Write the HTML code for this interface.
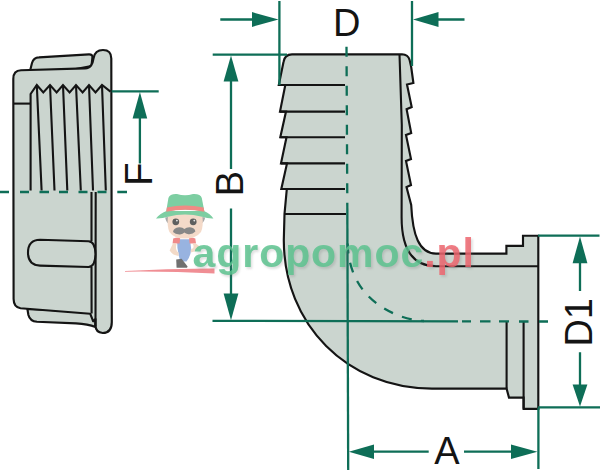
<!DOCTYPE html>
<html>
<head>
<meta charset="utf-8">
<title>Elbow hose tail</title>
<style>
html,body{margin:0;padding:0;background:#ffffff;}
body{width:600px;height:473px;overflow:hidden;font-family:"Liberation Sans",sans-serif;}
svg{display:block;}
</style>
</head>
<body>
<svg width="600" height="473" viewBox="0 0 600 473">
<rect width="600" height="473" fill="#ffffff"/>

<!-- ================= NUT (left) ================= -->
<g fill="#cbd5cf" stroke="#141414" stroke-width="2.15" stroke-linejoin="round" stroke-linecap="round">
  <!-- back steps -->
  <path d="M30,71 L32,63 Q33.5,57.6 39,57.4 L89,54.4 Q92.8,54.3 92.4,57.5 L91.5,66 L60,72 Z"/>
  <path d="M27.4,309 L28.4,315 Q30,321.3 37,321.8 L76,323.4 Q88,324.2 95.5,327 L95.5,312 Z"/>
  <!-- main body -->
  <path d="M13.3,79 Q13.3,70.4 21,70.3 L85,68.4 C91,68.3 92.6,64 93.6,58 C94.6,52 98,50 103,50 Q111.3,50 111.3,58.5 L111.8,322 Q111.8,333 102.8,333 Q95.5,332.5 95.5,325 L95.5,319 L93.2,321.3 L90.2,313.7 L20.5,308.3 Q13.6,307 13.6,299 Z"/>
</g>
<g fill="none" stroke="#141414" stroke-width="2.1" stroke-linejoin="miter" stroke-linecap="butt">
  <!-- thread zigzag -->
  <path d="M30.6,190.5 L30.6,94 L36.8,85 L43.3,92.4 L50,85 L56.6,92.4 L63,85 L69.6,92.4 L76,85 L82.6,92.4 L89,85 L95.5,92.4 L102,85 L110.5,91.6"/>
  <path d="M36.8,85 L41.6,190.5 M50,85 L54.5,190.5 M63,85 L67.3,190.5 M76,85 L80.8,190.5 M89,85 L93,190.5 M102,85 L105.8,190.5"/>
  <path d="M13.5,103.6 L30.6,103.6"/>
  <!-- lower verticals -->
  <path d="M91.5,192 L91.5,241 M91.5,267 L91.6,313.6 M95.7,192 L95.5,326"/>
  <!-- slot -->
  <path fill="#cbd5cf" d="M40,239.7 L88.5,241.2 C93.6,241.6 95.4,247.5 95.4,254 C95.4,260.8 93.6,266.6 88.5,267 L40,265.6 Q28,265 28,252.6 Q28,240 40,239.7 Z"/>
</g>

<!-- ================= ELBOW (right) ================= -->
<path fill="#cbd5cf" stroke="#141414" stroke-width="2.15" stroke-linejoin="miter" d="M292,54.3 L402,54.3 Q408,54.6 409.6,60 L411.2,67 L413.4,83 L407,84.5 L411.7,107 L406.6,109.2 L411.2,133 L406,135 L411,159 L406,161 L411,185 L406.5,187 L411.2,205 C412.6,235 419,253.6 436,253.6 L506.4,253.6 L506.4,245.8 L523,245.8 L523,235.7 L538.3,235.7 L538.3,408.8 L523.6,408.8 L523.6,397.6 L509,397.6 L506.6,388.6 L432,388.6 C347.3,388.6 283.8,324.7 283.8,240 L284.5,214 L286.8,189 L281.3,189 L287,163.4 L281,163.4 L286.5,137.2 L280.3,137.2 L286,111.6 L280,111.6 L285.3,85 L278.8,85 L283.5,62 Q284.6,54.3 292,54.3 Z"/>
<g fill="none" stroke="#141414" stroke-width="2.1" stroke-linecap="butt">
  <path d="M278.8,85 L345,85 M280,111.6 L345,111.6 M280.3,137.2 L345,137.2 M281,163.4 L345,163.4 M281.3,189 L345,189 M284.5,214 L346,214"/>
  <path d="M399.5,54.3 L401.8,125 L401.6,217 C401.6,249 412,266.2 436,266.2 L538,266.2"/>
  <path d="M506.6,321.6 L506.6,388.6 M523.6,321.6 L523.6,408.8"/>
</g>

<!-- ================= GREEN DIMENSION LINES ================= -->
<g fill="none" stroke="#0e6e57" stroke-width="2.3" stroke-linecap="butt">
  <!-- nut centre line -->
  <path d="M0,192 H9 M20,192 H29 M39.5,192 H49 M59,192 H68 M78.5,192 H87.5 M97.5,192 H106.5 M117.3,192 H127"/>
  <!-- F -->
  <path d="M111.7,91.4 H158.7 M139.9,117 V163.5"/>
  <!-- B -->
  <path d="M212.7,54.6 H287 M231,80 V169 M231,208.5 V295 M212.5,320.9 L458,321.3"/>
  <!-- D -->
  <path d="M279.4,1 V85 M220.3,19.5 H254 M412,1 V66 M437,19.5 H464.5"/>
  <!-- elbow centre lines -->
  <path d="M346.5,46.7 L347.3,202.7" stroke-dasharray="10 9.5"/>
  <path d="M347.3,202.7 L348.2,470"/>
  <path d="M462,321.4 H471 M480,321.4 H490.5 M499,321.4 H509 M519,321.5 H528.5 M539,321.5 H548"/>
  <path d="M347.6,241 C347.6,307 408,321 424,321" stroke-dasharray="10 9.5" stroke-dashoffset="-2.5"/>
  <!-- D1 -->
  <path d="M538,235.6 H599.5 M580,262 V291 M580,352.2 V386 M538,407.4 H600"/>
  <!-- A -->
  <path d="M538.4,408 V469 M372,451.7 H428.7 M464,451.7 H513"/>
</g>
<g fill="#0e6e57" stroke="none">
  <path d="M139.9,92 L147.2,118.6 L132.6,118.6 Z"/>
  <path d="M231,55.5 L238.4,81.5 L223.6,81.5 Z"/>
  <path d="M231,320.2 L238.4,293.4 L223.6,293.4 Z"/>
  <path d="M278.6,19.5 L252,12.1 L252,26.9 Z"/>
  <path d="M413,19.5 L438.5,12.1 L438.5,26.9 Z"/>
  <path d="M580,236.4 L587.4,263.2 L572.6,263.2 Z"/>
  <path d="M580,406.6 L587.4,384.4 L572.6,384.4 Z"/>
  <path d="M348.8,451.7 L374,444.4 L374,459 Z"/>
  <path d="M537.4,451.7 L511,444.4 L511,459 Z"/>
</g>

<!-- ================= LETTERS ================= -->
<g fill="#141414" stroke="none" font-family="'Liberation Sans', sans-serif" font-size="38" text-anchor="middle">
  <!-- D -->
  <text x="346.7" y="36">D</text>
  <!-- A -->
  <text x="447" y="464.3">A</text>
  <!-- B -->
  <g transform="translate(216.6,192.6) rotate(-90)">
    <text x="9" y="26.6">B</text>
  </g>
  <!-- F -->
  <g transform="translate(125.1,183.6) rotate(-90)">
    <text x="9.5" y="27">F</text>
  </g>
  <!-- D1 -->
  <g transform="translate(563.7,343.3) rotate(-90)">
    <text x="21" y="27.9">D1</text>
  </g>
</g>

<!-- ================= WATERMARK ================= -->
<g opacity="0.88">
  <!-- swoosh -->
  <path d="M125,271 Q170,268.2 214.5,268.4 L214.5,273.6 Q170,271.2 125,271.7 Z" fill="#ee7f86"/>
  <!-- legs / overalls -->
  <path d="M177,239.3 L190,239.3 L191.2,249 Q190.5,257 186.5,261.5 L180.5,261.5 Q177,252 177,239.3 Z" fill="#8aa9dc"/>
  <!-- sleeves -->
  <path d="M173.2,238.4 Q176,237.4 180.2,237.6 L179.6,243.4 L172.6,243.6 Z" fill="#ee7a7a"/>
  <path d="M189,237.6 Q193,237.4 195.3,238.4 L196,243.6 L189.6,243.4 Z" fill="#ee7a7a"/>
  <!-- arms -->
  <path d="M173,243.2 L169.6,250.5 Q173,255.5 178.6,256 L178.6,252.6 Q174.6,251 176.6,243.6 Z" fill="#f2d5c0"/>
  <path d="M195.6,243.2 L200.4,247 Q197,251.6 190.8,252.6 L190.8,249.6 Q195.4,248 192.6,243.8 Z" fill="#f2d5c0"/>
  <!-- boots -->
  <path d="M176.2,259.4 L181.6,258.8 L187.6,266.4 L187,267.8 L176.6,267.8 Z" fill="#5d5d5d"/>
  <!-- hair sides -->
  <path d="M165.2,217.5 L170.5,216.5 L169.5,224.5 Q166,222.5 165.2,217.5 Z" fill="#9b9b9b"/>
  <path d="M205.2,217.5 L199.8,216.5 L200.8,224 Q204.2,222.2 205.2,217.5 Z" fill="#9b9b9b"/>
  <!-- face -->
  <path d="M168,216 Q185,211.5 202.4,216 Q203.6,226 201,232 Q196,238.6 185,238.6 Q174,238.6 169.4,232 Q166.8,226 168,216 Z" fill="#f3d6c2"/>
  <circle cx="175.8" cy="221.8" r="3.4" fill="#4a4a4a"/>
  <circle cx="193.2" cy="221.8" r="3.4" fill="#4a4a4a"/>
  <circle cx="176.9" cy="220.6" r="0.9" fill="#e8e8e8"/>
  <circle cx="194.3" cy="220.6" r="0.9" fill="#e8e8e8"/>
  <!-- moustache -->
  <path d="M173,232 Q173.6,227.6 179,227.2 Q182.6,227 184.4,229 Q186.4,227 190,227.2 Q194.8,227.6 195.4,231.6 Q192.6,234.6 188.4,234.2 Q185.6,234 184.4,232.6 Q183,234.2 180,234.4 Q175.4,234.6 173,232 Z" fill="#777777"/>
  <!-- hat -->
  <path d="M156,218.4 Q159.6,213.6 166.4,211 L204,211 Q210.4,213.6 213.4,218.4 Q207.6,218.6 202,216.8 Q185,212.4 168,216.8 Q162.4,218.6 156,218.4 Z" fill="#6cc896"/>
  <path d="M166.2,211.6 L168.4,198 Q169.8,193.6 177,194 Q185,196.4 193,194 Q200.6,193.6 201.8,198 L204.4,211.6 Q185,207.4 166.2,211.6 Z" fill="#6cc896"/>
  <path d="M166.9,207.6 Q185,203.4 203.6,207.6 L204.4,211.8 Q185,207.6 166.2,211.8 Z" fill="#ee7a74"/>
</g>
<defs><filter id="wmblur" x="-5%" y="-20%" width="110%" height="140%"><feGaussianBlur stdDeviation="1.3"/></filter></defs>
<g opacity="0.22" filter="url(#wmblur)" transform="translate(1.6,1.8)"><text x="192.5" y="267" font-family="'Liberation Sans', sans-serif" font-weight="bold" font-size="41" textLength="281.5" lengthAdjust="spacing" fill="#6d6d6d">agropomoc.pl</text></g>
<g opacity="0.84">
  <text x="192.5" y="267" font-family="'Liberation Sans', sans-serif" font-weight="bold" font-size="41" textLength="281.5" lengthAdjust="spacing" fill="#5cc38f">agropomoc<tspan fill="#ee656e">.pl</tspan></text>
</g>
</svg>
</body>
</html>
